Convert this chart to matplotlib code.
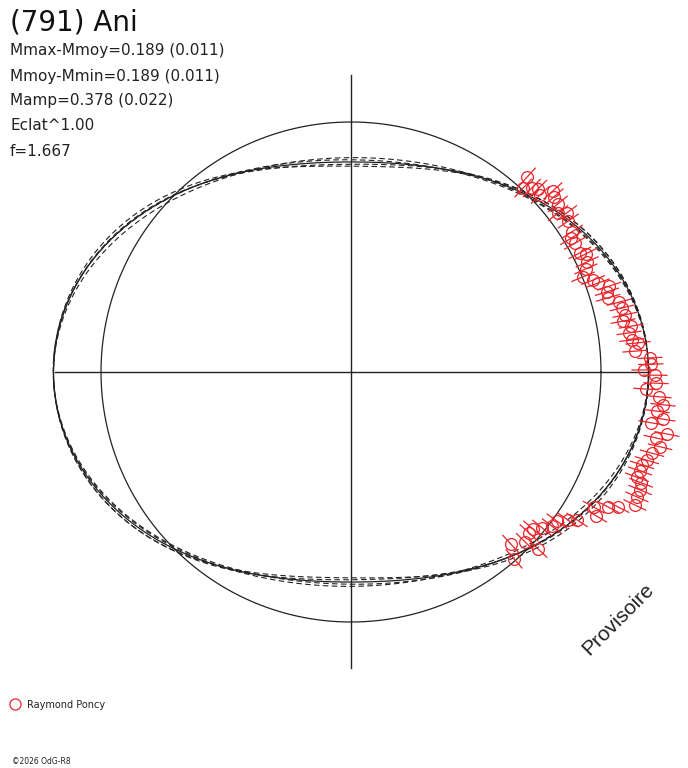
import numpy as np
import matplotlib
matplotlib.use("Agg")
import matplotlib.pyplot as plt

# ---- data ----
title = "(791) Ani"
info_lines = ["Mmax-Mmoy=0.189 (0.011)", "Mmoy-Mmin=0.189 (0.011)",
              "Mamp=0.378 (0.022)", "Eclat^1.00", "f=1.667"]
observer = "Raymond Poncy"
copyright_txt = "©2026 OdG-R8"
stamp = "Provisoire"

# fit: half amplitude (2nd harmonic) in magnitude, and uncertainty variants
fit_a2 = 0.189
fit_a4 = 0.0
fit_phase = 0.0
dash_a2 = [0.178, 0.184, 0.195, 0.200]
dash_a4 = [0.011, 0.006, -0.006, -0.011]
dash_phases = [0.8, -0.8, 0.5, -0.5]

# observations: rotational phase angle (deg) and relative flux
obs_phase = [47.9, 46.9, 45.5, 44.4, 43.1, 41.9, 40.8, 39.1, 37.5, 36.4,
             34.8, 32.4, 31.3, 29.9, 27.5, 26.7, 25.0, 23.7, 22.3, 20.8,
             19.8, 18.4, 17.4, 16.1, 14.6, 13.3, 11.8, 10.6, 9.3, 8.0,
             6.5, 5.8, 4.2, 2.7, 1.5, 0.4, -0.6, -2.1, -3.3, -4.6,
             -6.0, -7.3, -8.6, -9.6, -11.1, -12.2, -13.6, -15.1, -16.6, -17.7,
             -18.9, -20.2, -20.9, -22.2, -23.6, -25.1, -26.8, -27.7, -29.1, -30.4,
             -33.2, -34.3, -35.9, -37.5, -39.2, -40.8, -42.1, -44.3, -47.1, -43.4,
             -48.9]
obs_flux = [1.051, 1.008, 1.032, 1.047, 1.036, 1.085, 1.072, 1.066, 1.044, 1.073,
            1.058, 1.047, 1.030, 1.034, 1.032, 1.052, 1.042, 1.026, 1.003, 1.036,
            1.050, 1.088, 1.073, 1.070, 1.108, 1.114, 1.119, 1.107, 1.135, 1.123,
            1.131, 1.154, 1.139, 1.197, 1.200, 1.172, 1.216, 1.221, 1.182, 1.236,
            1.255, 1.234, 1.262, 1.217, 1.288, 1.248, 1.272, 1.247, 1.235, 1.222,
            1.222, 1.219, 1.242, 1.249, 1.248, 1.254, 1.197, 1.161, 1.112, 1.137,
            1.081, 1.051, 1.017, 1.013, 0.986, 0.961, 0.960, 0.973, 0.940, 1.030,
            0.992]
obs_err = 0.048

red = "#e8262b"
ink = "#222222"

W, H = 688, 768
cx, cy, scale = 351, 372, 250.0
fig = plt.figure(figsize=(W / 100, H / 100), dpi=100)
ax = fig.add_axes([0, 0, 1, 1])
ax.set_xlim(-cx / scale, (W - cx) / scale)
ax.set_ylim(-(H - cy) / scale, cy / scale)
ax.axis("off")

# reference circle and axes
t = np.linspace(0, 2 * np.pi, 721)
ax.plot(np.cos(t), np.sin(t), color=ink, lw=0.9)
ax.plot([-1.185, 1.19], [0, 0], color=ink, lw=1.0)
ax.plot([0, 0], [-1.185, 1.19], color=ink, lw=1.0)

def fit_r(a2, a4, ph):
    tt = t - np.radians(ph)
    return 10 ** (0.4 * (a2 * np.cos(2 * tt) + a4 * np.cos(4 * tt)))

for a2, a4, p in zip(dash_a2, dash_a4, dash_phases):
    r = fit_r(a2, a4, p)
    ax.plot(r * np.cos(t), r * np.sin(t), color=ink, lw=0.8, dashes=(5, 3))
r = fit_r(fit_a2, fit_a4, fit_phase)
ax.plot(r * np.cos(t), r * np.sin(t), color=ink, lw=0.9)

# observations
ph = np.radians(np.array(obs_phase))
fl = np.array(obs_flux)
for p, f in zip(ph, fl):
    ax.plot([(f - obs_err) * np.cos(p), (f + obs_err) * np.cos(p)],
            [(f - obs_err) * np.sin(p), (f + obs_err) * np.sin(p)],
            color=red, lw=0.9)
ax.plot(fl * np.cos(ph), fl * np.sin(ph), "o", ms=8.5, mfc="none",
        mec=red, mew=0.9, ls="none")

# texts
font = "DejaVu Sans"
fig.text(10 / W, 1 - 22 / H, title, fontsize=20, family=font,
         va="center", ha="left", color="#111111")
for i, s in enumerate(info_lines):
    fig.text(10 / W, 1 - (51 + 25 * i) / H, s, fontsize=11, family=font,
             va="center", ha="left", color=ink)

fig.text(618 / W, 1 - 619 / H, stamp, fontsize=15, family="Liberation Sans",
         rotation=45, va="center", ha="center", color=ink)

ax.plot([(15 - cx) / scale], [(cy - 704) / scale], "o", ms=8, mfc="none",
        mec=red, mew=0.9)
fig.text(27 / W, 1 - 705 / H, observer, fontsize=7, family=font,
         va="center", ha="left", color=ink)
fig.text(12 / W, 1 - 762 / H, copyright_txt, fontsize=5.5, family=font,
         va="center", ha="left", color=ink)

fig.savefig("out.png", dpi=100, facecolor="white")
